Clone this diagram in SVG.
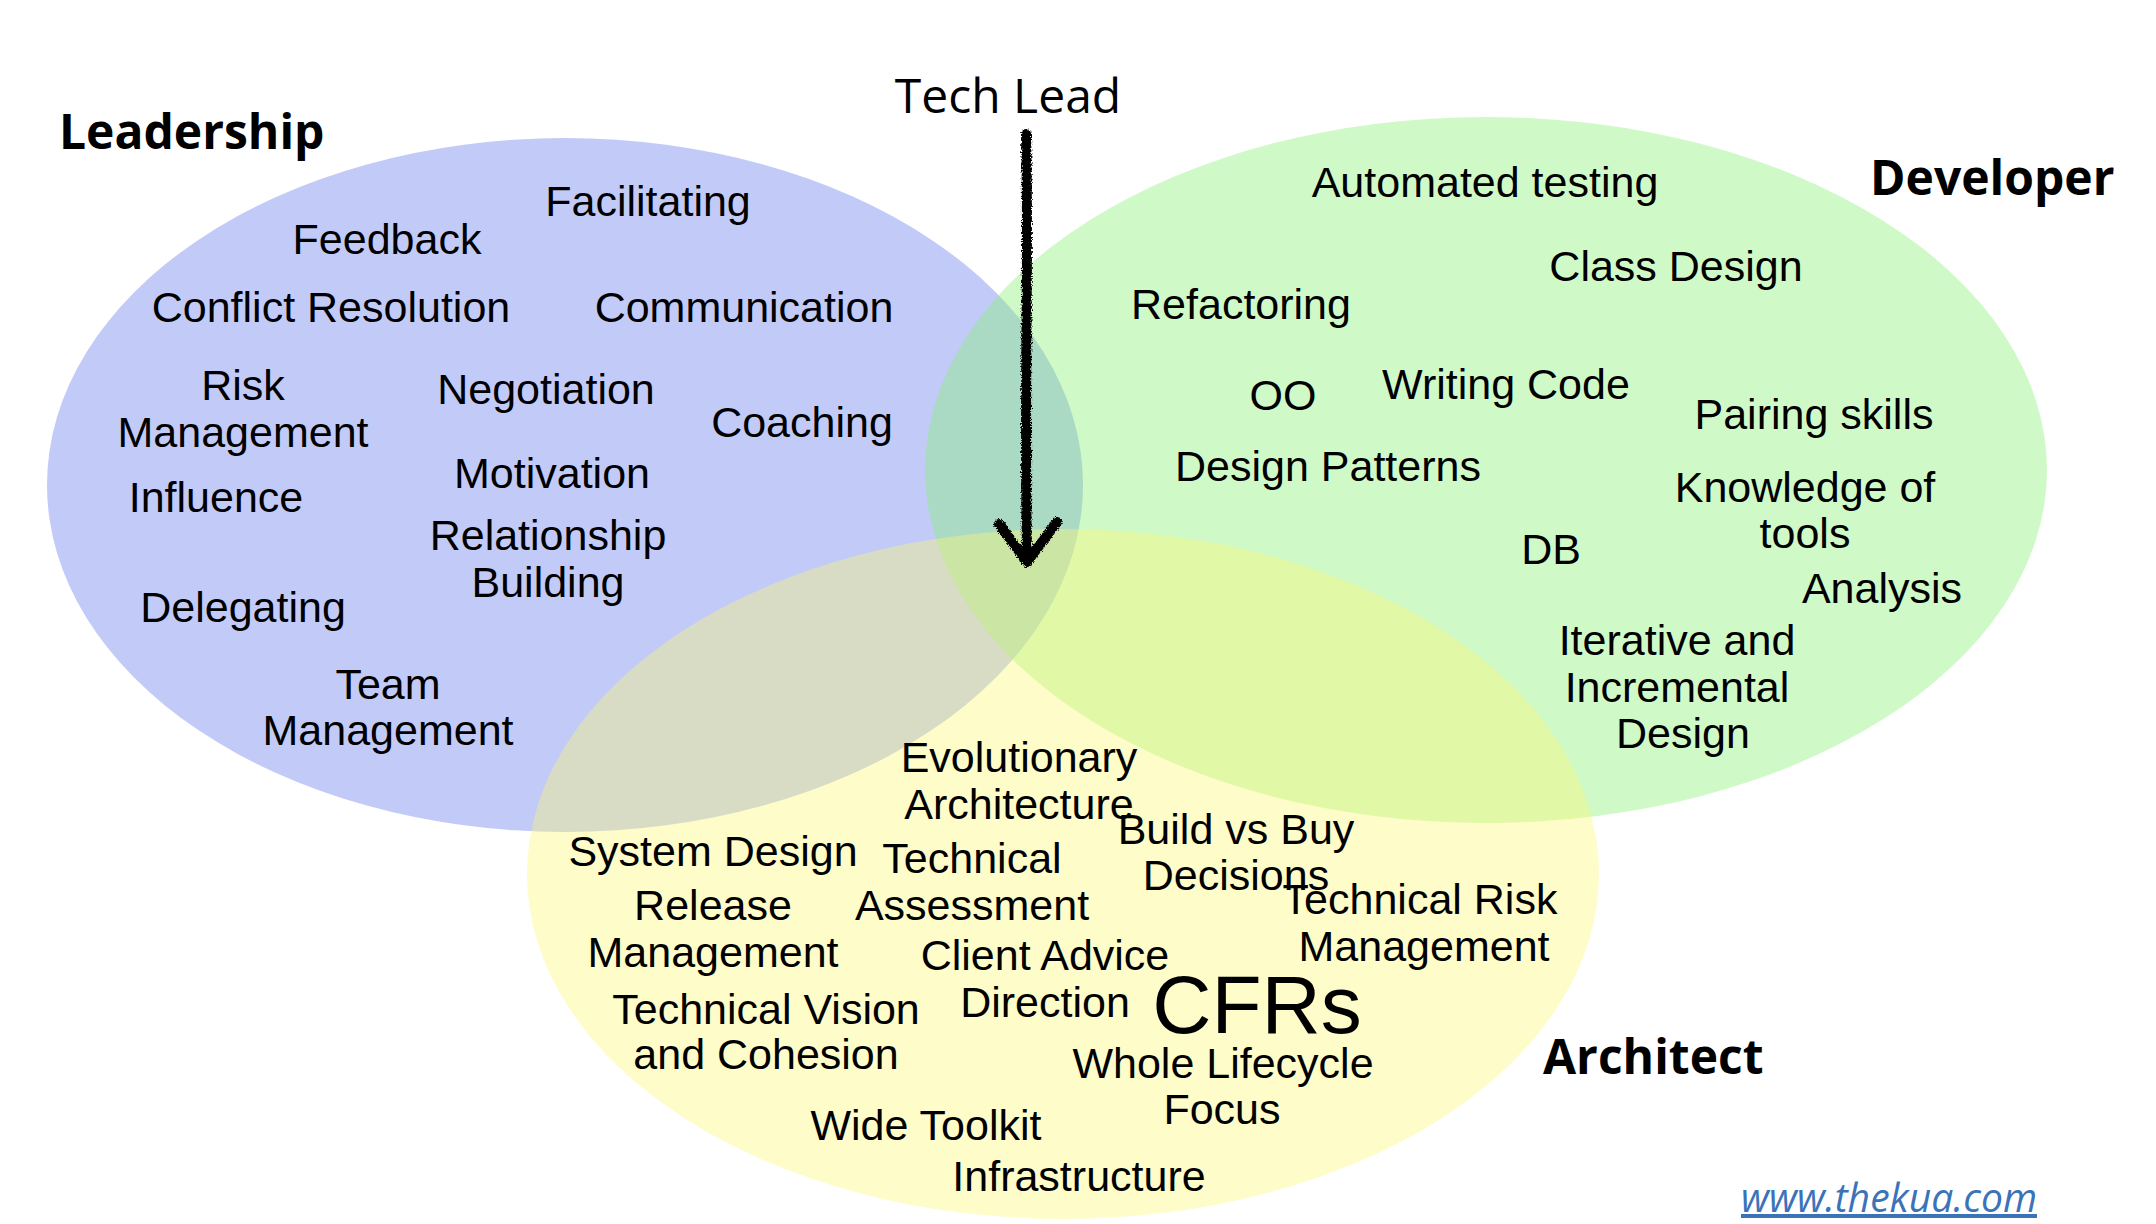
<svg xmlns="http://www.w3.org/2000/svg" width="2156" height="1224" viewBox="0 0 2156 1224">
  <style>
    .t { font-family: "Liberation Sans", Arial, sans-serif; font-size: 43px; fill: #000; text-anchor: middle; }
    .h { font-family: "Open Sans", "Noto Sans", sans-serif; font-size: 48px; font-weight: bold; fill: #000; }
    .lead { font-family: "Open Sans", "Noto Sans", sans-serif; font-size: 48px; fill: #000; text-anchor: middle; }
    .url { font-family: "Open Sans", "Noto Sans", sans-serif; font-style: italic; font-size: 40px; fill: #3b73b9; text-decoration: underline; }
    .arrow { fill: none; stroke: #000; stroke-width: 10; stroke-linecap: round; stroke-linejoin: round; }
  </style>
  <defs>
    <filter id="rough" filterUnits="userSpaceOnUse" x="960" y="110" width="140" height="480">
      <feTurbulence type="fractalNoise" baseFrequency="0.8" numOctaves="2" seed="3" result="n"/>
      <feDisplacementMap in="SourceGraphic" in2="n" scale="5" xChannelSelector="R" yChannelSelector="G"/>
    </filter>
  </defs>
  <rect width="2156" height="1224" fill="#ffffff"/>

  <g id="sets">
    <ellipse id="leadership-set" cx="565" cy="485" rx="518" ry="347" fill="#c2cbf8"/>
    <ellipse id="developer-set" cx="1486" cy="470" rx="561" ry="353" fill="#89f075" fill-opacity="0.4"/>
    <ellipse id="architect-set" cx="1063" cy="874" rx="536" ry="345" fill="#fcf771" fill-opacity="0.38"/>
  </g>

  <g id="connectors" filter="url(#rough)">
    <path class="arrow" d="M1026,134 C1029,250 1024,390 1027,556"/>
    <path class="arrow" d="M999,524 L1027,562 L1057,522"/>
  </g>

  <g id="tech-lead"><text class="lead" x="1008" y="113">Tech Lead</text></g>

  <g id="leadership">
    <text class="h" x="59" y="149">Leadership</text>
    <text class="t" x="648" y="216">Facilitating</text>
    <text class="t" x="387" y="254">Feedback</text>
    <text class="t" x="331" y="322">Conflict Resolution</text>
    <text class="t" x="744" y="322">Communication</text>
    <text class="t" x="243" y="400">Risk</text>
    <text class="t" x="243" y="447">Management</text>
    <text class="t" x="546" y="404">Negotiation</text>
    <text class="t" x="802" y="437">Coaching</text>
    <text class="t" x="552" y="488">Motivation</text>
    <text class="t" x="216" y="512">Influence</text>
    <text class="t" x="548" y="550">Relationship</text>
    <text class="t" x="548" y="597">Building</text>
    <text class="t" x="243" y="622">Delegating</text>
    <text class="t" x="388" y="699">Team</text>
    <text class="t" x="388" y="745">Management</text>
  </g>

  <g id="developer">
    <text class="h" x="1870" y="195">Developer</text>
    <text class="t" x="1485" y="197">Automated testing</text>
    <text class="t" x="1676" y="281">Class Design</text>
    <text class="t" x="1241" y="319">Refactoring</text>
    <text class="t" x="1283" y="410">OO</text>
    <text class="t" x="1506" y="399">Writing Code</text>
    <text class="t" x="1814" y="429">Pairing skills</text>
    <text class="t" x="1328" y="481">Design Patterns</text>
    <text class="t" x="1805" y="502">Knowledge of</text>
    <text class="t" x="1805" y="548">tools</text>
    <text class="t" x="1551" y="564">DB</text>
    <text class="t" x="1882" y="603">Analysis</text>
    <text class="t" x="1677" y="655">Iterative and</text>
    <text class="t" x="1677" y="702">Incremental</text>
    <text class="t" x="1683" y="748">Design</text>
  </g>

  <g id="architect">
    <text class="h" x="1543" y="1074">Architect</text>
    <text class="t" x="1019" y="772">Evolutionary</text>
    <text class="t" x="1019" y="819">Architecture</text>
    <text class="t" x="1236" y="844">Build vs Buy</text>
    <text class="t" x="1236" y="890">Decisions</text>
    <text class="t" x="713" y="866">System Design</text>
    <text class="t" x="972" y="873">Technical</text>
    <text class="t" x="713" y="920">Release</text>
    <text class="t" x="972" y="920">Assessment</text>
    <text class="t" x="1420" y="914">Technical Risk</text>
    <text class="t" x="713" y="967">Management</text>
    <text class="t" x="1045" y="970">Client Advice</text>
    <text class="t" x="1424" y="961">Management</text>
    <text class="t" x="766" y="1024">Technical Vision</text>
    <text class="t" x="1045" y="1017">Direction</text>
    <text class="t" x="1257" y="1033" style="font-size:82px">CFRs</text>
    <text class="t" x="766" y="1069">and Cohesion</text>
    <text class="t" x="1223" y="1078">Whole Lifecycle</text>
    <text class="t" x="1222" y="1124">Focus</text>
    <text class="t" x="926" y="1140">Wide Toolkit</text>
    <text class="t" x="1079" y="1191">Infrastructure</text>
  </g>

  <g id="credit">
    <text class="url" x="1741" y="1212" textLength="296" lengthAdjust="spacingAndGlyphs">www.thekua.com</text>
  </g>
</svg>
